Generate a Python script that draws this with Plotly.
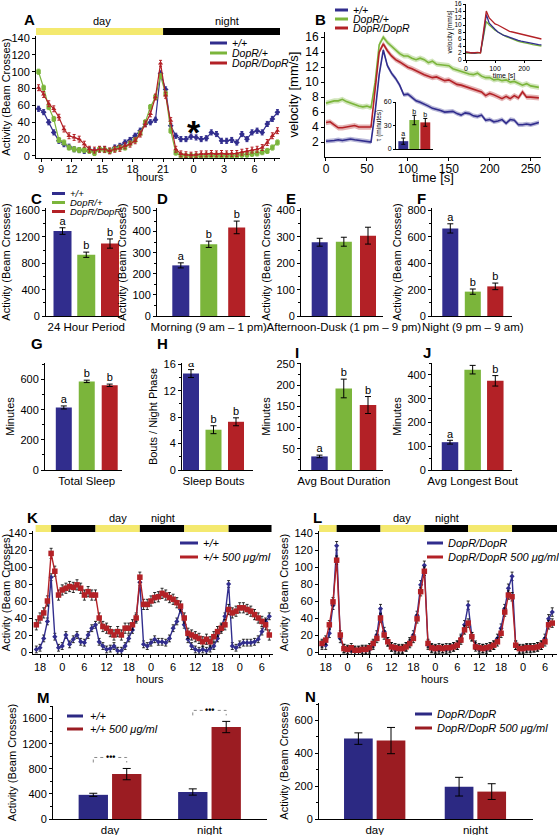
import plotly.graph_objects as go

W, H = 559, 835
FONT = "Liberation Sans, Arial, Helvetica, sans-serif"
BLUE = "#312D8D"
GREEN = "#7BB53B"
RED = "#B32126"
BLUE_M = "#2C2983"
RED_M = "#9B1C22"
YELLOW = "#F4E96F"

GENOTYPES = ["+/+", "DopR/+", "DopR/DopR"]
COLORS3 = [BLUE, GREEN, RED]

# ---------------- Panel A: 24 h activity (30 min bins) ----------------
A_first_hour = 8.75
A_bin = 0.5
A_wt = [56, 52, 40, 28, 18, 14, 11, 8, 7, 6, 7, 5.5, 8, 8, 6, 10, 12, 16, 19, 24,
        30, 38, 40, 43, 98, 79, 36, 24, 20, 20, 23, 22, 20, 21, 28, 26, 18, 18, 19, 16,
        26, 20, 28, 30, 28, 38, 44, 52]
A_het = [100, 81, 58, 44, 19, 16, 10, 8, 7, 7, 6, 3.5, 8, 7, 6, 8, 10, 10, 15, 19,
         27, 40, 58, 70, 95, 74, 30, 4, 0.5, 0, 0, 0, 0, 0.5, 0.5, 0.5, 0, 0.5, 0, 0.5,
         1.5, 1.5, 2.5, 3, 4.5, 6, 10, 16]
A_hom = [81, 73, 62, 56, 46, 32, 24, 22, 20, 14, 8, 7, 8, 8, 6, 8, 9, 12, 14, 18,
         26, 38, 50, 70, 110, 72, 42, 8, 2.5, 1.5, 1, 1.5, 2.5, 2.5, 3, 2.5, 3, 2.5, 3, 3,
         4.5, 5.5, 7, 8, 10, 16, 24, 30]
A_err = [3.0, 3.0, 3.5]
A_tick_hours = [9, 12, 15, 18, 21, 24, 27, 30]
A_tick_labels = ["9", "12", "15", "18", "21", "0", "3", "6"]
A_range = [8.5, 32.5]
A_lights_transitions = [21]

# ---------------- Panel B: velocity after startle ----------------
B_time = list(range(0, 261, 5))
B_wt = [2.1, 2.1, 2.2, 2.3, 2.2, 2.3, 2.4, 2.3, 2.2, 2.2, 2.1, 2.0,
        6.0, 11.0, 14.3, 12.2, 11.2, 10.5, 9.6, 8.3, 8.4,
        8.0, 7.5, 7.3, 7.1, 6.8, 6.5, 6.4, 6.2, 6.0, 6.0,
        6.1, 5.8, 5.6, 5.9, 5.8, 5.5, 5.4, 5.6, 4.9, 5.0,
        4.7, 4.8, 5.0, 4.5, 5.0, 4.9, 4.3, 4.3, 4.4, 4.3,
        4.5, 4.6]
B_het = [7.2, 7.4, 7.5, 7.5, 7.7, 7.4, 7.2, 6.9, 6.8, 6.7, 6.8, 6.6,
         10.0, 15.0, 16.0, 15.3, 14.8, 14.2, 13.8, 13.5, 13.5,
         13.2, 13.0, 13.2, 13.0, 12.6, 12.8, 12.4, 12.3, 12.2, 12.2,
         11.8, 11.6, 11.4, 11.3, 11.1, 11.0, 11.2, 10.8, 10.6, 10.6,
         10.3, 10.4, 10.2, 10.3, 10.0, 10.1, 9.9, 9.6, 9.8, 9.5,
         9.4, 9.3]
B_hom = [4.6, 4.7, 4.3, 3.9, 3.9, 4.0, 4.1, 4.2, 4.0, 4.0, 4.1, 4.0,
         9.0, 14.0, 15.1, 14.2, 13.5, 13.0, 12.7, 12.3, 12.0,
         11.8, 11.5, 11.2, 11.0, 10.8, 10.6, 10.7, 10.4, 10.2, 10.3,
         10.0, 9.7, 9.6, 9.4, 9.2, 9.0, 8.8, 8.7, 8.2, 8.5,
         8.3, 8.0, 7.8, 8.1, 7.8, 8.2, 7.9, 8.7, 8.0, 8.0,
         8.0, 7.9]
B_sem = [0.3, 0.35, 0.35]
B_tau = [10, 37, 34]
B_tau_err = [4, 6, 5]
B_tau_letters = ["a", "b", "b"]
B2_time = list(range(0, 261, 10))
B2_hom = [2.3, 2.1, 2.0, 2.1, 2.2, 2.0, 8, 14, 12, 11, 10.3, 10, 9.5, 9, 8.6, 8.2,
          8, 7.8, 7.5, 7.2, 7, 6.8, 6.6, 6.4, 6.2, 6.1, 6.0]
B2_wt = [2.2, 2.1, 2.2, 2.0, 2.1, 2.2, 7, 13, 10.5, 9.5, 8.8, 8, 7.5, 7, 6.8, 6.5,
         6, 5.8, 5.6, 5.4, 5.2, 5, 4.8, 4.6, 4.5, 4.4, 4.3]
B2_het = [2.0, 2.1, 2.0, 1.9, 2.0, 2.1, 6.5, 11, 10, 9.2, 8.5, 8, 7.5, 7, 6.6, 6.3,
          5.9, 5.6, 5.3, 5.1, 5.0, 4.8, 4.6, 4.4, 4.2, 4.1, 4.0]

# ---------------- Panels C-J: bar summaries ----------------
C_vals, C_err, C_letters = [1290, 930, 1100], [50, 40, 70], ["a", "b", "b"]
D_vals, D_err, D_letters = [240, 340, 420], [12, 15, 30], ["a", "b", "b"]
E_vals, E_err, E_letters = [280, 282, 305], [15, 17, 32], []
F_vals, F_err, F_letters = [665, 185, 225], [35, 20, 25], ["a", "b", "b"]
G_vals, G_err, G_letters = [415, 588, 562], [10, 8, 8], ["a", "b", "b"]
H_vals, H_err, H_letters = [14.6, 6.1, 7.3], [0.6, 0.6, 0.6], ["a", "b", "b"]
I_vals, I_err, I_letters = [32, 192, 153], [3, 22, 20], ["a", "b", "b"]
J_vals, J_err, J_letters = [117, 422, 375], [8, 18, 22], ["a", "b", "b"]

# ---------------- Panels K, L: 3-day activity (1 h) ----------------
KL_hours = list(range(17, 81))
KL_tick_hours = [18, 24, 30, 36, 42, 48, 54, 60, 66, 72, 78]
KL_tick_labels = ["18", "0", "6", "12", "18", "0", "6", "12", "18", "0", "6"]
KL_lights_transitions = [21, 33, 45, 57, 69]
K_wt = [3, 5, 16, 36, 88, 18, 5, 7, 20, 9, 15, 20, 12, 11, 20, 28, 32, 12, 7, 3,
        4, 7, 1.5, 1.5, 7, 16, 26, 40, 82, 9, 7, 11, 15, 12, 12, 11, 16, 28, 36, 50,
        32, 15, 7, 3, 1.5, 3, 1.5, 4, 7, 16, 28, 42, 80, 7, 5, 9, 11, 11, 11, 12,
        15, 24, 36, 42]
K_drug = [32, 40, 46, 60, 116, 95, 67, 73, 75, 77, 76, 79, 75, 67, 71, 67, 67, 40, 30, 28,
          24, 20, 24, 20, 28, 28, 32, 40, 88, 56, 56, 60, 64, 65, 69, 67, 64, 62, 58, 54,
          40, 22, 20, 18, 16, 12, 15, 12, 18, 24, 28, 32, 50, 46, 48, 52, 52, 50, 48, 44,
          40, 36, 32, 20]
K_err = [4, 6]
L_hom = [8, 8, 22, 55, 125, 16, 4, 2, 2, 1, 1, 2, 2, 3, 8, 20, 51, 24, 12, 6,
         3, 3, 3, 6, 12, 20, 43, 79, 102, 8, 4, 3, 3, 4, 3, 4, 6, 8, 16, 32,
         55, 18, 8, 3, 4, 3, 6, 8, 16, 28, 51, 75, 89, 8, 3, 3, 4, 4, 5, 6,
         8, 16, 39, 47]
L_drug = [10, 14, 32, 59, 108, 20, 4, 3, 5, 2, 2, 3, 3, 5, 10, 16, 40, 20, 12, 6,
          5, 4, 4, 6, 10, 16, 39, 71, 95, 10, 5, 4, 5, 4, 5, 5, 6, 8, 14, 26,
          34, 18, 6, 5, 4, 5, 6, 8, 12, 22, 47, 67, 65, 8, 4, 4, 5, 5, 5, 6,
          8, 12, 32, 34]
L_err = [5, 5]

# ---------------- Panels M, N: drug effect ----------------
MN_cats = ["day", "night"]
M_wt, M_wt_err = [385, 430], [25, 50]
M_drug, M_drug_err = [715, 1465], [90, 90]
M_sig = ["•••", "•••"]
N_hom, N_hom_err = [490, 197], [35, 57]
N_drug, N_drug_err = [478, 167], [80, 48]
K_labels = ["+/+", "+/+ 500 μg/ml"]
L_labels = ["DopR/DopR", "DopR/DopR 500 μg/ml"]


# ======================================================================
def rgba(hex_color, a):
    h = hex_color.lstrip("#")
    return "rgba(%d,%d,%d,%s)" % (int(h[0:2], 16), int(h[2:4], 16), int(h[4:6], 16), a)


def X(px):
    return px / W


def Y(py):
    return 1 - py / H


fig = go.Figure()
layout = {}
shapes = []
annotations = []

AX_BASE = dict(showline=True, linecolor="black", linewidth=1, showgrid=False, zeroline=False,
               ticks="outside", ticklen=3, tickwidth=1, tickcolor="black",
               tickfont=dict(family=FONT, size=11, color="black"),
               automargin=False, fixedrange=True)


def make_axes(n, xpx, ypx, xrange, yrange, xkw=None, ykw=None):
    s = "" if n == 1 else str(n)
    xa = dict(AX_BASE, domain=[X(xpx[0]), X(xpx[1])], range=xrange, anchor="y" + s)
    ya = dict(AX_BASE, domain=[Y(ypx[1]), Y(ypx[0])], range=yrange, anchor="x" + s)
    xa.update(xkw or {})
    ya.update(ykw or {})
    layout["xaxis" + s] = xa
    layout["yaxis" + s] = ya
    return "x" + s, "y" + s


def ttl(text, size=11, standoff=3):
    return dict(text=text, font=dict(family=FONT, size=size, color="black"), standoff=standoff)


def tf(size):
    return dict(family=FONT, size=size, color="black")


def text(xp, yp, s, size=11, xanchor="center", italic=False, bold=False, **kw):
    if italic:
        s = "<i>" + s + "</i>"
    if bold:
        s = "<b>" + s + "</b>"
    annotations.append(dict(x=X(xp), y=Y(yp), xref="paper", yref="paper", text=s, showarrow=False,
                            xanchor=xanchor, yanchor="middle", font=tf(size), **kw))


def legend(x0, x1, xt, ys, labels, colors, size=11, lw=3):
    for yv, lab, col in zip(ys, labels, colors):
        shapes.append(dict(type="line", xref="paper", yref="paper", x0=X(x0), x1=X(x1),
                           y0=Y(yv), y1=Y(yv), line=dict(color=col, width=lw)))
        text(xt, yv, lab, size=size, xanchor="left", italic=True)


def ld_bar(n, xpx, ypx, xrange, x0, x1, transitions):
    xa, ya = make_axes(n, xpx, ypx, xrange, [0, 1],
                       xkw=dict(visible=False), ykw=dict(visible=False))
    edges = [x0] + [t for t in transitions if x0 < t < x1] + [x1]
    light = True
    for a, b in zip(edges[:-1], edges[1:]):
        shapes.append(dict(type="rect", xref=xa, yref=ya, x0=a, x1=b, y0=0, y1=1,
                           fillcolor=YELLOW if light else "black", line=dict(width=0)))
        light = not light


# ---------------- Panel A ----------------
xa, ya = make_axes(1, (36, 280), (36, 158), A_range, [-2.4, 142.4],
                   xkw=dict(tickmode="array", tickvals=A_tick_hours, ticktext=A_tick_labels,
                            ticklabelstandoff=-2,
                            minor=dict(ticks="outside", ticklen=2, tick0=0, dtick=1, tickcolor="black")),
                   ykw=dict(tickmode="linear", tick0=0, dtick=20,
                            title=ttl("Activity (Beam Crosses)", 11, 3)))
A_times = [A_first_hour + A_bin * i for i in range(len(A_wt))]
for vals, col, sym, err in zip([A_wt, A_het, A_hom], COLORS3,
                               ["diamond", "square", "triangle-up"], A_err):
    fig.add_trace(go.Scatter(x=A_times, y=vals, mode="lines+markers", xaxis=xa, yaxis=ya,
                             line=dict(color=col, width=1.2),
                             marker=dict(symbol=sym, size=4.5, color=col),
                             error_y=dict(type="constant", value=err, color=col, thickness=1, width=1.5)))
ld_bar(17, (36, 280), (28, 35), A_range, A_range[0], A_range[1], A_lights_transitions)
text(102, 21, "day", 11)
text(227, 21, "night", 11)
text(150, 177, "hours", 11)
legend(210, 227, 230, [43, 53, 63], GENOTYPES, COLORS3, size=10.5)
text(194, 132, "*", 34, bold=True)

# ---------------- Panel B ----------------
xa, ya = make_axes(2, (325, 541), (32, 157), [-1.2, 262.6], [0, 16.7],
                   xkw=dict(tickmode="linear", tick0=0, dtick=50, tickfont=tf(12), ticklabelstandoff=-2),
                   ykw=dict(tickmode="array", tickvals=[2, 4, 6, 8, 10, 12, 14, 16], tickfont=tf(12),
                            title=ttl("velocity [mm/s]", 13, 3)))
for vals, col, sem in zip([B_het, B_hom, B_wt], [GREEN, RED, BLUE], [B_sem[1], B_sem[2], B_sem[0]]):
    fig.add_trace(go.Scatter(x=B_time, y=[v + sem for v in vals], mode="lines", line=dict(width=0),
                             xaxis=xa, yaxis=ya, hoverinfo="skip"))
    fig.add_trace(go.Scatter(x=B_time, y=[v - sem for v in vals], mode="lines", line=dict(width=0),
                             fill="tonexty", fillcolor=rgba(col, 0.35), xaxis=xa, yaxis=ya, hoverinfo="skip"))
    fig.add_trace(go.Scatter(x=B_time, y=vals, mode="lines", line=dict(color=col, width=1.6),
                             xaxis=xa, yaxis=ya))
text(433, 178, "time [s]", 13)
legend(335, 348, 351, [10, 19, 28], GENOTYPES, COLORS3, size=10.5)

# B inset: tau bars
xa, ya = make_axes(3, (396, 433), (102, 149), [(396 - 403.3) / 11, (433 - 403.3) / 11], [0, 60],
                   xkw=dict(ticks="", showticklabels=False),
                   ykw=dict(tickmode="array", tickvals=[0, 30, 60], tickfont=tf(7), ticklen=2,
                            title=ttl("τ (minutes)", 6.5, 1)))
fig.add_trace(go.Bar(x=[0, 1, 2], y=B_tau, width=0.9, marker=dict(color=COLORS3, line=dict(width=0)),
                     error_y=dict(type="data", array=B_tau_err, color="black", thickness=1, width=2),
                     xaxis=xa, yaxis=ya))
fig.add_trace(go.Scatter(x=[0, 1, 2], y=[v + e for v, e in zip(B_tau, B_tau_err)], mode="text",
                         text=B_tau_letters, textposition="top center", textfont=tf(7),
                         xaxis=xa, yaxis=ya))

# B inset: raw velocity
xa, ya = make_axes(4, (466, 542), (4, 60), [0, 262], [0, 16],
                   xkw=dict(tickmode="array", tickvals=[0, 100, 200], tickfont=tf(7), ticklen=2,
                            title=ttl("time [s]", 7, 0)),
                   ykw=dict(tickmode="linear", tick0=0, dtick=2, tickfont=tf(6.5), ticklen=2,
                            title=ttl("velocity [mm/s]", 6.5, 1)))
for vals, col in zip([B2_het, B2_wt, B2_hom], [GREEN, BLUE, RED]):
    fig.add_trace(go.Scatter(x=B2_time, y=vals, mode="lines", line=dict(color=col, width=1.3),
                             xaxis=xa, yaxis=ya))


# ---------------- Panels C-J ----------------
def bar_panel(n, xpx, ypx, yrange, centers, width_px, vals, errs, letters, category, ytitle, ykw):
    s = (centers[-1] - centers[0]) / (len(centers) - 1)
    xr = [(xpx[0] - centers[0]) / s, (xpx[1] - centers[0]) / s]
    idx = list(range(len(vals)))
    xa, ya = make_axes(n, xpx, ypx, xr, yrange,
                       xkw=dict(tickmode="array", tickvals=[idx[len(idx) // 2]], ticktext=[category],
                                ticks="", tickfont=tf(11.5)),
                       ykw=dict(title=ttl(ytitle, 11, 3), **ykw))
    fig.add_trace(go.Bar(x=idx, y=vals, width=width_px / s,
                         marker=dict(color=COLORS3, line=dict(width=0)),
                         error_y=dict(type="data", array=errs, color="black", thickness=1, width=3),
                         xaxis=xa, yaxis=ya))
    if letters:
        fig.add_trace(go.Scatter(x=idx, y=[v + e for v, e in zip(vals, errs)], mode="text",
                                 text=letters, textposition="top center", textfont=tf(11),
                                 xaxis=xa, yaxis=ya))


def lin(dtick, minor):
    d = dict(tickmode="linear", tick0=0, dtick=dtick)
    if minor:
        d["minor"] = dict(ticks="outside", ticklen=2, tick0=0, dtick=minor, tickcolor="black")
    return d


ACT = "Activity (Beam Crosses)"
bar_panel(5, (46, 122), (208, 316), [0, 1640], (62.5, 86.3, 110), 18, C_vals, C_err, C_letters,
          "24 Hour Period", ACT, lin(400, 200))
bar_panel(6, (157, 250), (208, 316), [0, 512], (180.8, 208.7, 236.7), 17, D_vals, D_err, D_letters,
          "Morning (9 am – 1 pm)", ACT, lin(100, 50))
bar_panel(7, (301, 383), (208, 316), [0, 410], (319.7, 343.9, 368), 16, E_vals, E_err, E_letters,
          "Afternoon-Dusk (1 pm – 9 pm)", ACT, lin(100, 50))
bar_panel(8, (432, 512), (208, 316), [0, 820], (450.3, 472.8, 495.3), 16, F_vals, F_err, F_letters,
          "Night (9 pm – 9 am)", ACT, lin(200, 100))
bar_panel(9, (45, 122), (363, 470), [0, 710], (63.8, 86.7, 109.7), 16, G_vals, G_err, G_letters,
          "Total Sleep", "Minutes", lin(200, 100))
bar_panel(10, (182, 253), (363, 470), [0, 16.2], (191, 213.5, 236), 16, H_vals, H_err, H_letters,
          "Sleep Bouts", "Bouts / Night Phase", lin(4, 2))
bar_panel(11, (301, 383), (363, 470), [0, 252], (319.5, 343.8, 368), 16.5, I_vals, I_err, I_letters,
          "Avg Bout Duration", "Minutes",
          dict(tickmode="array", tickvals=[50, 100, 150, 200, 250],
               minor=dict(ticks="outside", ticklen=2, tick0=0, dtick=25, tickcolor="black")))
bar_panel(12, (432, 512), (363, 470), [0, 450], (450, 472.7, 495.3), 16.5, J_vals, J_err, J_letters,
          "Avg Longest Bout", "Minutes", lin(100, 50))
legend(52, 65, 68, [193.5, 202.5, 211.5], GENOTYPES, COLORS3, size=9.5)


# ---------------- Panels K, L ----------------
def kl_panel(n, xpx, xrange, series, colors, symbols, sizes, errs):
    xa, ya = make_axes(n, xpx, (531, 654), xrange, [-2.35, 142.35],
                       xkw=dict(tickmode="array", tickvals=KL_tick_hours, ticktext=KL_tick_labels,
                                minor=dict(ticks="outside", ticklen=2, tick0=0, dtick=2, tickcolor="black")),
                       ykw=dict(tickmode="linear", tick0=0, dtick=20, title=ttl(ACT, 11, 3)))
    for vals, col, sym, sz, er in zip(series, colors, symbols, sizes, errs):
        fig.add_trace(go.Scatter(x=KL_hours, y=vals, mode="lines+markers", xaxis=xa, yaxis=ya,
                                 line=dict(color=col, width=1.4),
                                 marker=dict(symbol=sym, size=sz, color=col),
                                 error_y=dict(type="constant", value=er, color="black",
                                              thickness=0.8, width=1.5)))


K_range = [16.1, 81]
L_range = [16.17, 81.3]
kl_panel(13, (33, 273), K_range, [K_wt, K_drug], [BLUE, RED], ["diamond", "square"], [4, 5.5], K_err)
kl_panel(14, (319, 557), L_range, [L_hom, L_drug], [BLUE, RED], ["diamond", "square"], [4, 5.5], L_err)
ld_bar(18, (33, 273), (525, 532), K_range, KL_hours[0] - 0.2, KL_hours[-1] + 0.6, KL_lights_transitions)
ld_bar(19, (319, 557), (525, 532), L_range, L_range[0], L_range[1], KL_lights_transitions)
text(118, 518, "day", 11)
text(163, 518, "night", 11)
text(402, 518, "day", 11)
text(447, 518, "night", 11)
text(150, 679, "hours", 11)
text(435, 679, "hours", 11)
legend(180, 198, 201, [543, 557], K_labels, [BLUE, RED], size=11)
legend(427, 443, 446, [543, 557], L_labels, [BLUE, RED], size=11)


# ---------------- Panels M, N ----------------
def mn_panel(n, xpx, ypx, xrange, yrange, ykw, a_vals, a_err, b_vals, b_err, off, width):
    xa, ya = make_axes(n, xpx, ypx, xrange, yrange,
                       xkw=dict(tickmode="array", tickvals=list(range(len(MN_cats))), ticktext=MN_cats,
                                ticks="", tickfont=tf(11.5)),
                       ykw=dict(title=ttl(ACT, 11, 3), **ykw))
    idx = list(range(len(MN_cats)))
    for vals, err, col, sgn in [(a_vals, a_err, BLUE_M, -1), (b_vals, b_err, RED_M, 1)]:
        fig.add_trace(go.Bar(x=[i + sgn * off for i in idx], y=vals, width=width,
                             marker=dict(color=col, line=dict(width=0)),
                             error_y=dict(type="data", array=err, color="black", thickness=1, width=4),
                             xaxis=xa, yaxis=ya))
    return xa, ya


xa, ya = mn_panel(15, (53, 267), (706, 819), [-0.573, 1.578], [0, 1800], lin(400, 200),
                  M_wt, M_wt_err, M_drug, M_drug_err, 0.168, 0.295)
for i, sig in enumerate(M_sig):
    top = max(M_wt[i] + M_wt_err[i], M_drug[i] + M_drug_err[i]) + 175
    drop = 80
    xl, xr = i - 0.168, i + 0.168
    shapes.append(dict(type="path", xref=xa, yref=ya,
                       path="M %f,%f L %f,%f L %f,%f L %f,%f" % (xl, top - drop, xl, top, xr, top, xr, top - drop),
                       line=dict(color="#888888", width=1, dash="dot")))
    annotations.append(dict(x=i, y=top, xref=xa, yref=ya, text="<b>%s</b>" % sig, showarrow=False,
                            font=tf(9), bgcolor="white", xanchor="center", yanchor="middle"))
legend(67, 83, 88, [716, 729], K_labels, [BLUE_M, RED_M], size=11)

mn_panel(16, (319, 533), (703, 819), [-0.553, 1.572], [0, 707], lin(200, 100),
         N_hom, N_hom_err, N_drug, N_drug_err, 0.162, 0.285)
legend(415, 432, 435, [714, 728], L_labels, [BLUE_M, RED_M], size=11)

# ---------------- panel letters ----------------
for lab, xp, yp in [("A", 29.5, 20), ("B", 320, 19), ("C", 36, 198), ("D", 162, 198),
                    ("E", 291, 198), ("F", 422, 198), ("G", 37, 343), ("H", 162, 343),
                    ("I", 297, 352), ("J", 427, 352), ("K", 32, 517), ("L", 317, 517),
                    ("M", 43, 697), ("N", 310, 696)]:
    text(xp, yp, lab, 15, bold=True)

layout.update(dict(width=W, height=H, margin=dict(l=0, r=0, t=0, b=0), template="none",
                   paper_bgcolor="white", plot_bgcolor="rgba(0,0,0,0)", showlegend=False,
                   font=dict(family=FONT, size=11, color="black"),
                   shapes=shapes, annotations=annotations))
fig.update_layout(**layout)
fig.write_html("out.html", config={"displayModeBar": False},
               post_script="document.body.style.margin='0';document.body.style.padding='0';"
                           "document.body.style.overflow='hidden';")
